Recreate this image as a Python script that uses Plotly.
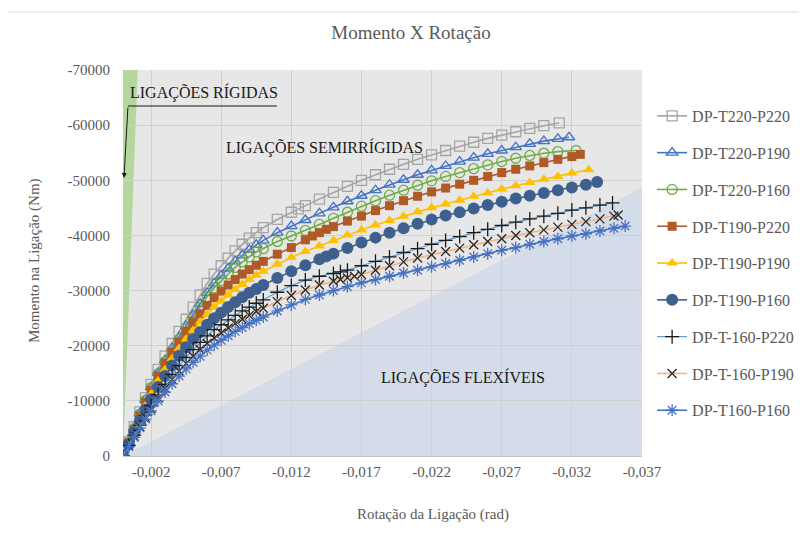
import plotly.graph_objects as go

# ------------------------------------------------------------------ data
series_names = ["DP-T220-P220", "DP-T220-P190", "DP-T220-P160",
                "DP-T190-P220", "DP-T190-P190", "DP-T190-P160",
                "DP-T-160-P220", "DP-T-160-P190", "DP-T160-P160"]

phi_base = [0, -0.0004, -0.0008, -0.0012, -0.0016, -0.002, -0.0025, -0.003, -0.0035, -0.004,
            -0.0045, -0.005, -0.0055, -0.006, -0.0065, -0.007, -0.0075, -0.008, -0.0085, -0.009,
            -0.0095, -0.010]

phi_t220_p220 = phi_base + [-0.011, -0.012, -0.0125, -0.013, -0.014, -0.015, -0.016, -0.017, -0.018,
                            -0.019, -0.020, -0.021, -0.022, -0.023, -0.024, -0.025, -0.026, -0.027,
                            -0.028, -0.029, -0.030, -0.0311]
m_t220_p220 = [0, -2600, -5300, -8000, -10600, -13000, -15700, -18100, -20400, -22600,
               -24800, -27000, -29200, -31300, -33000, -34500, -35900, -37200, -38400, -39500,
               -40500, -41400, -42900, -44200, -44800, -45400, -46600, -47800, -48900, -50000,
               -51000, -52000, -52900, -53800, -54600, -55400, -56200, -56900, -57600, -58200,
               -58800, -59400, -59900, -60400]

phi_t220_p190 = phi_base + [-0.011, -0.012, -0.013, -0.014, -0.015, -0.016, -0.017, -0.018, -0.019,
                            -0.020, -0.021, -0.022, -0.023, -0.024, -0.025, -0.026, -0.027, -0.028,
                            -0.029, -0.030, -0.031, -0.0318]
m_t220_p190 = [0, -2500, -5100, -7700, -10200, -12500, -15100, -17400, -19600, -21600,
               -23600, -25600, -27600, -29600, -31300, -32700, -34000, -35300, -36400, -37400,
               -38300, -39100, -40500, -41700, -42800, -44000, -45100, -46200, -47200, -48200,
               -49200, -50100, -51000, -51800, -52600, -53400, -54100, -54800, -55400, -56000,
               -56600, -57100, -57500, -57800]

phi_t220_p160 = phi_base + [-0.011, -0.012, -0.013, -0.014, -0.015, -0.016, -0.017, -0.018, -0.019,
                            -0.020, -0.021, -0.022, -0.023, -0.024, -0.025, -0.026, -0.027, -0.028,
                            -0.029, -0.030, -0.031, -0.0323]
m_t220_p160 = [0, -2500, -5000, -7600, -10100, -12400, -14900, -17100, -19100, -21100,
               -23000, -25000, -26900, -28900, -30500, -31800, -33000, -34200, -35200, -36100,
               -37000, -37600, -38900, -39900, -40900, -42000, -43100, -44200, -45300, -46300,
               -47300, -48200, -49100, -49900, -50700, -51400, -52100, -52800, -53400, -54000,
               -54500, -54900, -55200, -55400]

phi_t190_p220 = phi_base + [-0.011, -0.012, -0.013, -0.0135, -0.014, -0.0145, -0.015, -0.016, -0.017,
                            -0.018, -0.019, -0.020, -0.021, -0.022, -0.023, -0.024, -0.025, -0.026,
                            -0.027, -0.028, -0.029, -0.030, -0.031, -0.032, -0.0326]
m_t190_p220 = [0, -2400, -4800, -7300, -9700, -11900, -14500, -16800, -18800, -20700,
               -22600, -24200, -25800, -27300, -28700, -29900, -31000, -32000, -33000, -33800,
               -34600, -35300, -36600, -37800, -39200, -39900, -40500, -41100, -41600, -42600,
               -43500, -44500, -45400, -46300, -47100, -47900, -48600, -49300, -50000, -50700,
               -51400, -52000, -52600, -53200, -53800, -54300, -54700]

phi_t190_p190 = phi_base + [-0.011, -0.012, -0.013, -0.014, -0.015, -0.016, -0.017, -0.018, -0.019,
                            -0.020, -0.021, -0.022, -0.023, -0.024, -0.025, -0.026, -0.027, -0.028,
                            -0.029, -0.030, -0.031, -0.032, -0.0332]
m_t190_p190 = [0, -2300, -4600, -6900, -9100, -11200, -13600, -15700, -17700, -19500,
               -21200, -22800, -24300, -25700, -27000, -28100, -29200, -30200, -31100, -32000,
               -32800, -33500, -34800, -36000, -37100, -38100, -39100, -40100, -41000, -41900,
               -42700, -43500, -44300, -45000, -45700, -46400, -47100, -47700, -48400, -49000,
               -49600, -50200, -50700, -51300, -51900]

phi_t190_p160 = phi_base + [-0.011, -0.012, -0.013, -0.014, -0.0145, -0.015, -0.016, -0.017, -0.018,
                            -0.019, -0.020, -0.021, -0.022, -0.023, -0.024, -0.025, -0.026, -0.027,
                            -0.028, -0.029, -0.030, -0.031, -0.032, -0.033, -0.0338]
m_t190_p160 = [0, -2100, -4300, -6400, -8400, -10300, -12500, -14500, -16400, -18200,
               -19700, -21200, -22500, -23800, -25000, -26000, -27000, -27900, -28800, -29600,
               -30300, -31000, -32300, -33500, -34600, -35700, -36200, -36700, -37700, -38700,
               -39600, -40500, -41300, -42100, -42900, -43600, -44200, -44900, -45500, -46100,
               -46700, -47200, -47700, -48200, -48700, -49200, -49700]

phi_t160_p220 = phi_base + [-0.011, -0.012, -0.013, -0.014, -0.015, -0.0155, -0.016, -0.017, -0.018,
                            -0.019, -0.020, -0.021, -0.022, -0.023, -0.024, -0.025, -0.026, -0.027,
                            -0.028, -0.029, -0.030, -0.031, -0.032, -0.033, -0.034, -0.0349]
m_t160_p220 = [0, -1900, -3800, -5600, -7400, -9100, -11100, -13000, -14800, -16400,
               -17900, -19300, -20600, -21800, -22900, -23800, -24700, -25500, -26300, -27000,
               -27700, -28300, -29700, -30900, -31900, -32600, -33100, -33400, -33700, -34500,
               -35300, -36100, -36900, -37600, -38400, -39100, -39800, -40500, -41100, -41800,
               -42400, -43000, -43500, -44000, -44600, -45000, -45500, -45900]

phi_t160_p190 = phi_base + [-0.011, -0.012, -0.013, -0.014, -0.015, -0.0155, -0.016, -0.0165, -0.017,
                            -0.018, -0.019, -0.020, -0.021, -0.022, -0.023, -0.024, -0.025, -0.026,
                            -0.027, -0.028, -0.029, -0.030, -0.031, -0.032, -0.033, -0.034, -0.035,
                            -0.0353]
m_t160_p190 = [0, -1800, -3600, -5300, -7000, -8600, -10500, -12300, -13900, -15400,
               -16800, -18100, -19300, -20400, -21400, -22300, -23200, -24000, -24800, -25500,
               -26200, -26800, -28000, -29100, -30100, -31000, -31700, -32000, -32300, -32600,
               -32900, -33700, -34500, -35200, -35900, -36500, -37100, -37700, -38300, -38900,
               -39400, -40000, -40500, -41000, -41500, -42000, -42500, -43000, -43500, -43700]

phi_t160_p160 = phi_base + [-0.011, -0.012, -0.013, -0.014, -0.015, -0.016, -0.017, -0.018, -0.019,
                            -0.020, -0.021, -0.022, -0.023, -0.024, -0.025, -0.026, -0.027, -0.028,
                            -0.029, -0.030, -0.031, -0.032, -0.033, -0.034, -0.035, -0.0358]
m_t160_p160 = [0, -1700, -3400, -5100, -6700, -8200, -10000, -11600, -13100, -14500,
               -15800, -17000, -18100, -19200, -20100, -21000, -21800, -22600, -23300, -24000,
               -24600, -25200, -26300, -27400, -28400, -29200, -30000, -30700, -31400, -32000,
               -32600, -33200, -33700, -34300, -34900, -35500, -36100, -36700, -37300, -37800,
               -38400, -38900, -39400, -39900, -40300, -40800, -41300, -41700]

# limit regions (stiffness classification)
rigid_phi = [0, 0, -0.00105]
rigid_m = [0, -70000, -70000]
flex_phi = [0, -0.037, -0.037]
flex_m = [0, -48700, 0]

x_tick_vals = [-0.002, -0.007, -0.012, -0.017, -0.022, -0.027, -0.032, -0.037]
x_tick_text = ["-0,002", "-0,007", "-0,012", "-0,017", "-0,022", "-0,027", "-0,032", "-0,037"]
y_tick_vals = [0, -10000, -20000, -30000, -40000, -50000, -60000, -70000]
y_tick_text = ["0", "-10000", "-20000", "-30000", "-40000", "-50000", "-60000", "-70000"]

# ------------------------------------------------------------------ styles
FONT = "Liberation Serif, Times New Roman, serif"
GREY_TXT = "#595959"

styles = [
    dict(line="#a5a5a5", symbol="square-open", mcolor="#a5a5a5", size=10, lw=1.6),
    dict(line="#4472c4", symbol="triangle-up-open", mcolor="#4472c4", size=10, lw=1.6),
    dict(line="#70ad47", symbol="circle-open", mcolor="#70ad47", size=10, lw=1.6),
    dict(line="#b05a28", symbol="square", mcolor="#b05a28", size=9, lw=1.6),
    dict(line="#ffc000", symbol="triangle-up", mcolor="#ffc000", size=10, lw=1.6),
    dict(line="#3f5f8f", symbol="circle", mcolor="#3f5f8f", size=12, lw=1.6),
    dict(line="#5b9bd5", symbol="cross-thin-open", mcolor="#1a1a1a", size=10, lw=1.2),
    dict(line="#f4b183", symbol="x-thin-open", mcolor="#262626", size=9, lw=1.6),
    dict(line="#4472c4", symbol="asterisk-open", mcolor="#4472c4", size=10, lw=1.6),
]

series_phi = [phi_t220_p220, phi_t220_p190, phi_t220_p160, phi_t190_p220, phi_t190_p190,
              phi_t190_p160, phi_t160_p220, phi_t160_p190, phi_t160_p160]
series_m = [m_t220_p220, m_t220_p190, m_t220_p160, m_t190_p220, m_t190_p190,
            m_t190_p160, m_t160_p220, m_t160_p190, m_t160_p160]

fig = go.Figure()
for i, (name, xs, ys, st) in enumerate(zip(series_names, series_phi, series_m, styles)):
    assert len(xs) == len(ys), (name, len(xs), len(ys))
    open_sym = "open" in st["symbol"]
    marker = dict(symbol=st["symbol"], size=st["size"], color=st["mcolor"],
                  line=dict(color=st["mcolor"], width=1.3 if open_sym else 0))
    fig.add_trace(go.Scatter(x=xs, y=ys, name=name, mode="lines+markers",
                             legendgroup=f"g{i}",
                             line=dict(color=st["line"], width=st["lw"]),
                             marker=marker))

def tri_path(px, py):
    pts = " L ".join(f"{a},{b}" for a, b in zip(px, py))
    return "M " + pts + " Z"

shapes = [
    dict(type="path", path=tri_path(rigid_phi, rigid_m), xref="x", yref="y",
         fillcolor="#b3d79c", line=dict(width=0), layer="below"),
    dict(type="path", path=tri_path(flex_phi, flex_m), xref="x", yref="y",
         fillcolor="#d5dce9", line=dict(width=0), layer="below"),
    # leader line under "LIGAÇÕES RÍGIDAS"
    dict(type="line", xref="paper", yref="paper", x0=0.0096, x1=0.2967, y0=0.9067, y1=0.9067,
         line=dict(color="#1a1a1a", width=1)),
    # chart area border
    dict(type="rect", xref="paper", yref="paper", x0=-0.2235, x1=1.4, y0=-0.25, y1=1.1503,
         line=dict(color="#d9d9d9", width=1), fillcolor="rgba(0,0,0,0)", layer="below"),
]

annotations = [
    dict(text="LIGAÇÕES RÍGIDAS", xref="paper", yref="paper", x=0.0096, y=0.943,
         xanchor="left", yanchor="middle", showarrow=False,
         font=dict(family=FONT, size=16, color="#1a1a1a")),
    dict(text="", xref="paper", yref="paper", x=0.0019, y=0.7202, ax=4, ay=-72,
         showarrow=True, arrowhead=2, arrowsize=1, arrowwidth=1, arrowcolor="#1a1a1a", standoff=0),
    dict(text="LIGAÇÕES SEMIRRÍGIDAS", xref="paper", yref="paper", x=0.3892, y=0.8005,
         xanchor="center", yanchor="middle", showarrow=False,
         font=dict(family=FONT, size=16, color="#1a1a1a")),
    dict(text="LIGAÇÕES FLEXÍVEIS", xref="paper", yref="paper", x=0.6551, y=0.2021,
         xanchor="center", yanchor="middle", showarrow=False,
         font=dict(family=FONT, size=16, color="#1a1a1a")),
    dict(text="Rotação da Ligação (rad)", xref="paper", yref="paper", x=0.5973, y=-0.1528,
         xanchor="center", yanchor="middle", showarrow=False,
         font=dict(family=FONT, size=15, color=GREY_TXT)),
    dict(text="Momento na Ligação (Nm)", xref="paper", yref="paper", x=-0.1696, y=0.5078,
         xanchor="center", yanchor="middle", showarrow=False, textangle=-90,
         font=dict(family=FONT, size=15, color=GREY_TXT)),
]

fig.update_layout(
    width=807, height=536,
    margin=dict(l=115, r=173, t=62, b=88, autoexpand=False),
    paper_bgcolor="white", plot_bgcolor="#e7e7e7",
    font=dict(family=FONT, size=15, color=GREY_TXT),
    title=dict(text="Momento X Rotação", x=0.4994, y=0.955, xanchor="center", yanchor="middle",
               font=dict(family=FONT, size=19, color=GREY_TXT)),
    xaxis=dict(range=[0, -0.037], tickvals=x_tick_vals, ticktext=x_tick_text,
               showgrid=True, gridcolor="#d0d0d0", gridwidth=1, zeroline=False,
               showline=True, linecolor="#c4c4c4", linewidth=1, ticks="", ticklabelstandoff=2,
               tickfont=dict(family=FONT, size=15, color=GREY_TXT)),
    yaxis=dict(range=[0, -70000], tickvals=y_tick_vals, ticktext=y_tick_text,
               showgrid=True, gridcolor="#d0d0d0", gridwidth=1, zeroline=False,
               showline=False, ticks="", ticklabelstandoff=12,
               tickfont=dict(family=FONT, size=15, color=GREY_TXT)),
    legend=dict(x=1.0195, y=0.925, xanchor="left", yanchor="top",
                font=dict(family=FONT, size=16, color=GREY_TXT),
                tracegroupgap=13, bgcolor="rgba(0,0,0,0)"),
    shapes=shapes, annotations=annotations,
)

fig.write_html("out.html")
